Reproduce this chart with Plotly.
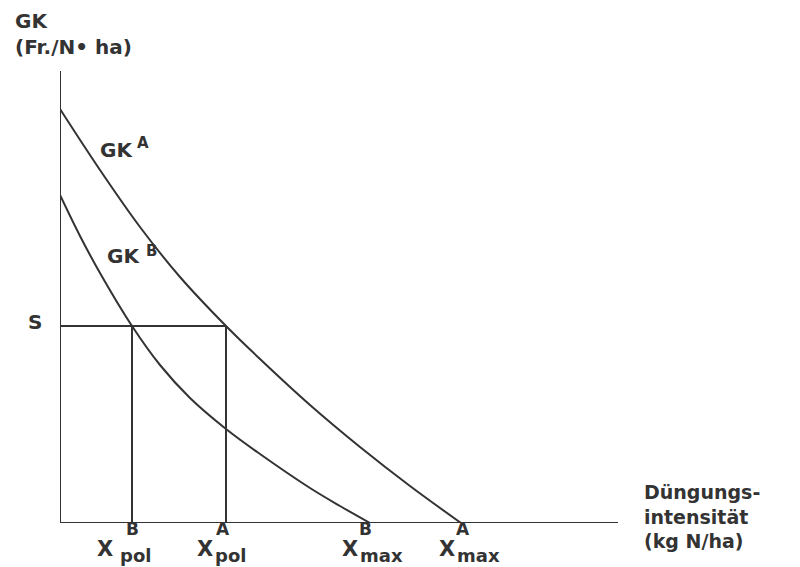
import plotly.graph_objects as go

# Data (arbitrary units)
gk_a_x = [0, 4, 8, 12, 16.6, 20, 25, 30, 35, 40.1]
gk_a_y = [41.4, 35.3, 29.6, 24.6, 19.7, 16.4, 11.8, 7.6, 3.7, 0]
gk_b_x = [0, 2, 4, 7.2, 10, 13, 16.6, 20, 25, 28, 31.0]
gk_b_y = [32.8, 28.7, 25.0, 19.7, 15.8, 12.5, 9.4, 6.9, 3.5, 1.7, 0]
s_level = 19.7
x_pol_b = 7.2
x_pol_a = 16.6
x_max_b = 31.0
x_max_a = 40.1
y_axis_top = 45.2
x_axis_end = 55.8

X_RANGE = 74.0
Y_RANGE = 51.5

INK = "#333333"
FONT = "DejaVu Sans"
fig = go.Figure()

line = dict(color=INK, width=2)
# axes
fig.add_trace(go.Scatter(x=[0, 0], y=[y_axis_top, 0], mode="lines", line=line))
fig.add_trace(go.Scatter(x=[0, x_axis_end], y=[0, 0], mode="lines", line=line))
# curves
fig.add_trace(go.Scatter(x=gk_a_x, y=gk_a_y, mode="lines",
                         line=dict(color=INK, width=2, shape="spline", smoothing=1.0)))
fig.add_trace(go.Scatter(x=gk_b_x, y=gk_b_y, mode="lines",
                         line=dict(color=INK, width=2, shape="spline", smoothing=1.0)))
# S line and verticals
fig.add_trace(go.Scatter(x=[0, x_pol_a], y=[s_level, s_level], mode="lines", line=line))
fig.add_trace(go.Scatter(x=[x_pol_b, x_pol_b], y=[0, s_level], mode="lines", line=line))
fig.add_trace(go.Scatter(x=[x_pol_a, x_pol_a], y=[0, s_level], mode="lines", line=line))


def txt(x, y, t, size=19, xanchor="left"):
    fig.add_annotation(x=x / X_RANGE, y=y / Y_RANGE, xref="paper", yref="paper",
                       text="<b>" + t + "</b>", showarrow=False, xanchor=xanchor,
                       yanchor="middle", align="left",
                       font=dict(family=FONT, size=size, color=INK))


txt(-4.7, 48.9, "GK<br>(Fr./N• ha)", 20)
txt(-2.5, s_level + 0.4, "S", 20, "center")
txt(3.8, 37.3, "GK", 20)
txt(7.5, 37.95, "A", 15)
txt(4.5, 26.7, "GK", 20)
txt(8.4, 27.2, "B", 15)

txt(x_axis_end + 2.4, 0.7, "Düngungs-<br>intensität<br>(kg N/ha)", 19)

for xv, sup, sub, dx_x, dx_sup, dx_sub in [
        (x_pol_b, "B", "pol", -3.7, -0.8, -1.4),
        (x_pol_a, "A", "pol", -3.1, -1.2, -1.3),
        (x_max_b, "B", "max", -3.0, -1.3, -1.2),
        (x_max_a, "A", "max", -2.4, -0.7, -0.6)]:
    txt(xv + dx_x, -2.6, "X", 21)
    txt(xv + dx_sup, -0.55, sup, 17)
    txt(xv + dx_sub, -3.25, sub, 18)

fig.update_layout(
    width=792, height=559,
    margin=dict(l=52, r=0, t=0, b=44),
    paper_bgcolor="white", plot_bgcolor="white",
    showlegend=False,
    xaxis=dict(range=[0, X_RANGE], visible=False),
    yaxis=dict(range=[0, Y_RANGE], visible=False),
)
fig.write_html("out.html")
